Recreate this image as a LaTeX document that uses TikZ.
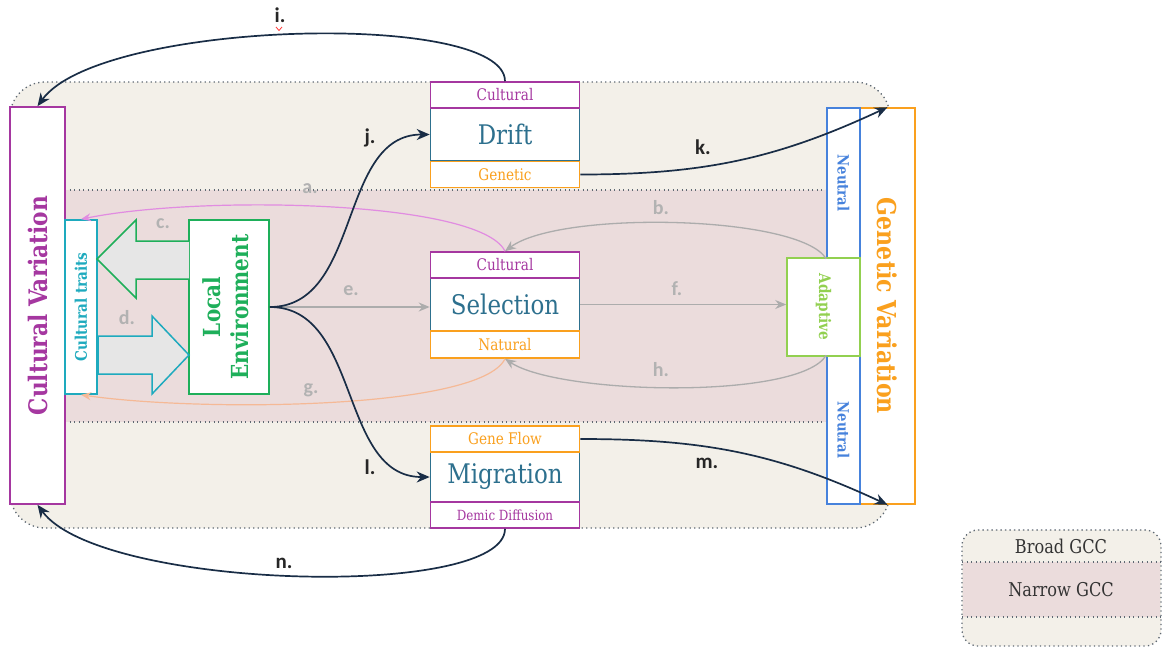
\documentclass[tikz,border=0pt]{standalone}
\usepackage{fontspec}
\setmainfont{DejaVu Serif}[FakeStretch=0.85]
\newfontfamily\labfont{Carlito}
\usetikzlibrary{arrows.meta}
\definecolor{cvpurple}{RGB}{165,55,160}
\definecolor{tealb}{RGB}{45,112,142}
\definecolor{orng}{RGB}{250,160,30}
\definecolor{lgreen}{RGB}{30,175,90}
\definecolor{cyanb}{RGB}{30,170,190}
\definecolor{blueb}{RGB}{70,130,220}
\definecolor{adgreen}{RGB}{146,208,80}
\definecolor{navy}{RGB}{25,45,70}
\definecolor{garrow}{RGB}{172,172,172}
\definecolor{glabel}{RGB}{178,178,178}
\definecolor{pinkarc}{RGB}{225,140,225}
\definecolor{peacharc}{RGB}{245,185,150}
\definecolor{beige}{RGB}{243,240,233}
\definecolor{pinkband}{RGB}{235,220,220}
\definecolor{dotc}{RGB}{95,105,115}
\definecolor{bigfill}{RGB}{230,230,230}
\begin{document}
\begin{tikzpicture}[x=1pt,y=-1pt,
  box/.style={draw=#1, fill=white, line width=1.6pt, inner sep=0pt, rectangle},
  wbox/.style={box=#1, minimum width=149pt},
  small/.style={font=\fontsize{16}{18}\selectfont},
  big/.style={font=\fontsize{27}{30}\selectfont, text=tealb},
  dots/.style={draw=dotc, line width=1.3pt, dash pattern=on 1.3pt off 3.2pt},
  lbl/.style={font=\labfont\bfseries\fontsize{21}{24}\selectfont, text=black!85},
  glbl/.style={font=\labfont\bfseries\fontsize{20}{23}\selectfont, text=glabel},
  navyarrow/.style={draw=navy, line width=1.7pt, -{Stealth[length=13pt,width=11pt]}},
  grayarrow/.style={draw=garrow, line width=1.3pt, -{Stealth[length=11pt,width=9pt]}},
]
\useasboundingbox (0,0) rectangle (1163,649);

% broad and narrow GCC regions
\path[fill=beige, rounded corners=35pt] (10,82) rectangle (890,528);
\fill[pinkband] (11,190) rectangle (889,422);
\draw[dots, rounded corners=35pt] (10,82) rectangle (890,528);
\draw[dots] (65,190) -- (827,190);
\draw[dots] (65,422) -- (827,422);

% left boxes
\node[box=cvpurple, minimum width=55pt, minimum height=397pt, text=cvpurple,
  font=\bfseries\fontsize{25.5}{28}\selectfont] (cv) at (37.5,305.5) {\rotatebox{90}{Cultural Variation}};
\node[box=cyanb, minimum width=32pt, minimum height=174pt, text=cyanb,
  font=\bfseries\fontsize{16}{18}\selectfont] (traits) at (81,307) {\rotatebox{90}{Cultural traits}};
\node[box=lgreen, minimum width=80pt, minimum height=174pt, text=lgreen,
  font=\bfseries\fontsize{23.5}{28}\selectfont] (locenv) at (229,307)
  {\rotatebox{90}{\begin{tabular}{@{}c@{}}Local\\Environment\end{tabular}}};

% big block arrows c and d
\fill[bigfill] (189,241) -- (136,241) -- (136,220) -- (97,259) -- (136,298) -- (136,279) -- (189,279) -- cycle;
\draw[lgreen, line width=1.5pt, line join=miter] (189,241) -- (136,241) -- (136,220) -- (97,259) -- (136,298) -- (136,279) -- (189,279);
\fill[bigfill] (98,336) -- (152,336) -- (152,316) -- (189,355) -- (152,394) -- (152,374) -- (98,374) -- cycle;
\draw[cyanb, line width=1.5pt, line join=miter] (98,336) -- (152,336) -- (152,316) -- (189,355) -- (152,394) -- (152,374) -- (98,374);
\draw[cyanb, line width=2.4pt] (98,336) -- (98,374);

% right boxes
\node[box=orng, minimum width=55pt, minimum height=396pt, text=orng,
  font=\bfseries\fontsize{26}{28}\selectfont] (gv) at (887.5,306) {\rotatebox{-90}{Genetic Variation}};
\node[box=blueb, minimum width=33pt, minimum height=150pt, text=blueb,
  font=\bfseries\fontsize{15.5}{17}\selectfont] (ntop) at (843.5,183) {\rotatebox{-90}{Neutral}};
\node[box=blueb, minimum width=33pt, minimum height=148pt, text=blueb,
  font=\bfseries\fontsize{15.5}{17}\selectfont] (nbot) at (843.5,430) {\rotatebox{-90}{Neutral}};
\node[box=adgreen, minimum width=73pt, minimum height=98pt, text=adgreen,
  font=\bfseries\fontsize{16}{18}\selectfont] (adapt) at (823.5,307) {\rotatebox{-90}{Adaptive}};

% Drift group
\node[wbox=tealb, minimum height=53pt, big] (drift) at (505,134.5) {Drift};
\node[wbox=cvpurple, minimum height=26pt, small, text=cvpurple] (dcul) at (505,95) {Cultural};
\node[wbox=orng, minimum height=26pt, small, text=orng] (dgen) at (505,174.5) {Genetic};

% Selection group
\node[wbox=tealb, minimum height=53pt, big] (sel) at (505,304.5) {Selection};
\node[wbox=cvpurple, minimum height=26pt, small, text=cvpurple] (scul) at (505,265) {Cultural};
\node[wbox=orng, minimum height=27pt, small, text=orng] (snat) at (505,344.5) {Natural};

% Migration group
\node[wbox=tealb, minimum height=50pt, big] (mig) at (505,477) {Migration};
\node[wbox=orng, minimum height=26pt, small, text=orng] (mgf) at (505,439) {Gene Flow};
\node[wbox=cvpurple, minimum height=26pt, text=cvpurple, font=\fontsize{14}{16}\selectfont] (mdd) at (505,515) {Demic Diffusion};

% gray / coloured connectors
\draw[pinkarc, line width=1.2pt, -{Stealth[length=10pt,width=8pt]}] (scul.north) .. controls (480,200) and (200,195) .. (traits.north);
\draw[peacharc, line width=1.2pt, -{Stealth[length=10pt,width=8pt]}] (snat.south) .. controls (480,410) and (200,412) .. (traits.south);
\draw[grayarrow] (ntop.south west) .. controls (800,215) and (560,210) .. (scul.north);
\draw[grayarrow] (nbot.north west) .. controls (800,400) and (560,395) .. (snat.south);
\draw[grayarrow] (locenv.east) -- (locenv.east -| sel.west);
\draw[grayarrow] (sel.east) -- (sel.east -| adapt.west);

% navy connectors
\draw[navyarrow] (locenv.east) to[out=0,in=180] (drift.west);
\draw[navyarrow] (locenv.east) to[out=0,in=180] (mig.west);
\draw[navyarrow] (dgen.east) to[out=0,in=205] (gv.north);
\draw[navyarrow] (mgf.east) to[out=0,in=155] (gv.south);
\draw[navyarrow] (dcul.north) .. controls (505,10) and (100,20) .. (cv.north);
\draw[navyarrow] (mdd.south) .. controls (505,600) and (100,590) .. (cv.south);

% labels
\node[lbl] (li) at (280,15) {i.};
\draw[red!80, line width=0.8pt] (276,27) -- (279,30.5) -- (282,27);
\node[lbl] (lj) at (370,138) {j.};
\node[lbl] (lk) at (703,147) {k.};
\node[lbl] (ll) at (370,467) {l.};
\node[lbl] (lm) at (707,463) {m.};
\node[lbl] (ln) at (284,563) {n.};
\node[glbl] (la) at (310,189) {a.};
\node[glbl] (lb) at (661,208) {b.};
\node[glbl] (lc) at (163,224) {c.};
\node[glbl] (ld) at (127,318) {d.};
\node[glbl] (le) at (351,291) {e.};
\node[glbl] (lf) at (677,289) {f.};
\node[glbl] (lg) at (311,390) {g.};
\node[glbl] (lh) at (661,370) {h.};

% legend
\path[fill=beige, rounded corners=16pt] (962,530) rectangle (1161,646);
\fill[pinkband] (963,562) rectangle (1160,617);
\draw[dots, rounded corners=16pt] (962,530) rectangle (1161,646);
\draw[dots] (962,562) -- (1161,562);
\draw[dots] (962,617) -- (1161,617);
\node[font=\fontsize{19}{22}\selectfont, text=black!80] (broad) at (1061,546) {Broad GCC};
\node[font=\fontsize{19}{22}\selectfont, text=black!80] (narrow) at (1061,590) {Narrow GCC};
\end{tikzpicture}
\end{document}
